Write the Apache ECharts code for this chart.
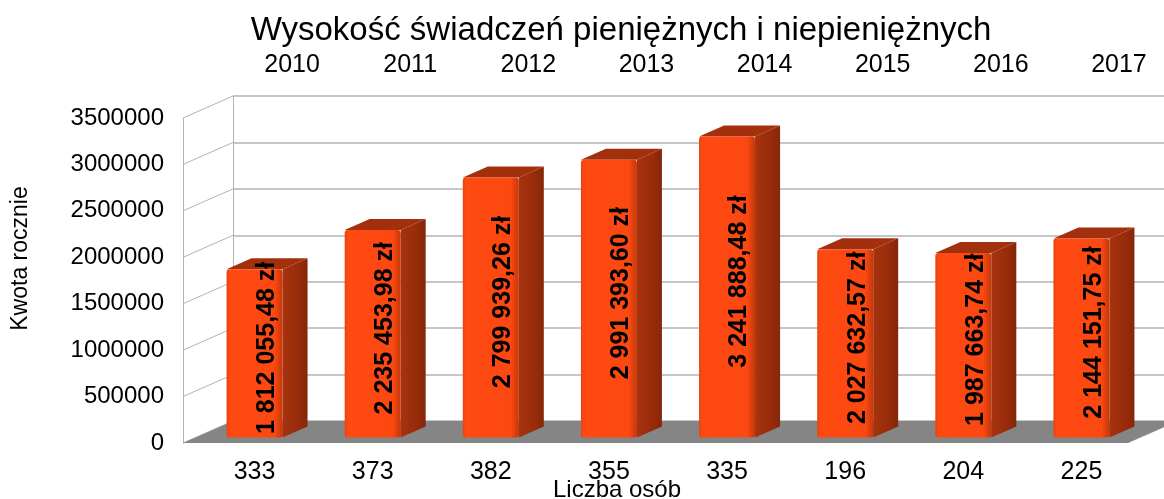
<!DOCTYPE html>
<html>
<head>
<meta charset="utf-8">
<script src="https://cdn.jsdelivr.net/npm/echarts@6/dist/echarts.min.js"></script>
<style>
html, body { margin: 0; padding: 0; background: #fff; }
#chart { width: 1164px; height: 499px; }
</style>
</head>
<body>
<div id="chart"></div>
<script>
// dane: lata (oś górna), liczba osób (oś dolna), kwoty roczne
var years = ['2010', '2011', '2012', '2013', '2014', '2015', '2016', '2017'];
var persons = ['333', '373', '382', '355', '335', '196', '204', '225'];
var amounts = [1812055.48, 2235453.98, 2799939.26, 2991393.60, 3241888.48, 2027632.57, 1987663.74, 2144151.75];
var yTicks = [0, 500000, 1000000, 1500000, 2000000, 2500000, 3000000, 3500000];

var DX = 50, DY = -22;   // przesunięcie głębi (efekt 3D)
var FONT = '"Liberation Sans", Arial, sans-serif';
var GRID_LINE = '#b3b3b3';

function fmtZl(v) {
    var s = v.toFixed(2).split('.');
    return s[0].replace(/\B(?=(\d{3})+(?!\d))/g, ' ') + ',' + s[1] + ' zł';
}

var myChart = echarts.init(document.getElementById('chart'));

// podłoga
function renderFloor(params, api) {
    var cs = params.coordSys;
    var y0 = api.coord([0, 0])[1];
    return {
        type: 'polygon',
        shape: { points: [[cs.x, y0], [cs.x + cs.width, y0], [cs.x + cs.width + DX, y0 + DY], [cs.x + DX, y0 + DY]] },
        style: { fill: '#858585' }
    };
}

// linie siatki na lewej ścianie
function renderWall(params, api) {
    var cs = params.coordSys;
    var p = api.coord([0, api.value(1)]);
    return {
        type: 'line',
        shape: { x1: cs.x, y1: p[1], x2: cs.x + DX, y2: p[1] + DY },
        style: { stroke: GRID_LINE, lineWidth: 1 }
    };
}

// słupki 3D
function renderBar(params, api) {
    var c = api.coord([api.value(0), api.value(1)]);
    var b = api.coord([api.value(0), 0]);
    var w = api.size([1, 0])[0] * 0.474;
    var fx = 0.25 * DX, fy = 0.25 * DY, bx = 0.75 * DX, by = 0.75 * DY;
    var xl = c[0] - w / 2, xr = c[0] + w / 2;
    return {
        type: 'group',
        children: [
            {
                type: 'polygon',
                shape: { points: [[xr + fx, c[1] + fy], [xr + bx, c[1] + by], [xr + bx, b[1] + by], [xr + fx, b[1] + fy]] },
                style: {
                    fill: new echarts.graphic.LinearGradient(0, 0, 1, 0, [
                        { offset: 0, color: '#a8330e' },
                        { offset: 0.7, color: '#952b0a' },
                        { offset: 1, color: '#85260a' }
                    ])
                }
            },
            {
                type: 'polygon',
                shape: { points: [[xl + fx, c[1] + fy], [xl + bx, c[1] + by], [xr + bx, c[1] + by], [xr + fx, c[1] + fy]] },
                style: { fill: '#a2300d' }
            },
            {
                type: 'rect',
                shape: { x: xl + fx, y: c[1] + fy, width: w, height: b[1] - c[1], r: 3 },
                style: {
                    fill: new echarts.graphic.LinearGradient(0, 0, 1, 0, [
                        { offset: 0, color: '#e8420e' },
                        { offset: 0.06, color: '#ff4a12' },
                        { offset: 0.86, color: '#fc4811' },
                        { offset: 1, color: '#c2380b' }
                    ])
                }
            },
            {
                type: 'text',
                x: c[0] + DX / 2,
                y: (c[1] + b[1]) / 2 + DY / 2,
                rotation: Math.PI / 2,
                style: {
                    text: fmtZl(api.value(1)),
                    fill: '#000',
                    fontSize: 25,
                    fontWeight: 'bold',
                    fontFamily: FONT,
                    align: 'center',
                    verticalAlign: 'middle'
                }
            }
        ]
    };
}

myChart.setOption({
    animation: false,
    textStyle: { fontFamily: FONT, color: '#000' },
    title: {
        text: 'Wysokość świadczeń pieniężnych i niepieniężnych',
        left: 616,
        top: 9,
        textAlign: 'center',
        textStyle: { fontSize: 33, fontWeight: 'normal', color: '#000', fontFamily: '"Liberation Sans Narrow", ' + FONT }
    },
    grid: [
        { left: 183, top: 118, width: 945, height: 325, outerBoundsMode: 'none' },    // przód
        { left: 233, top: 96, width: 945, height: 325, outerBoundsMode: 'none' },     // tylna ściana
        { left: 195.5, top: 112.5, width: 945, height: 325, outerBoundsMode: 'none' } // etykiety dolne
    ],
    xAxis: [
        { gridIndex: 0, type: 'category', data: years, show: false },
        {
            gridIndex: 1, type: 'category', data: years, position: 'top',
            axisLine: { show: false }, axisTick: { show: false },
            axisLabel: { fontSize: 25, color: '#000', margin: 18 }
        },
        {
            gridIndex: 2, type: 'category', data: persons, position: 'bottom',
            axisLine: { show: false }, axisTick: { show: false },
            axisLabel: { fontSize: 25, color: '#000', margin: 22 },
            name: 'Liczba osób', nameLocation: 'middle', nameGap: 41, nameMoveOverlap: false,
            nameTextStyle: { fontSize: 24, color: '#000', padding: [0, 102, 0, 0] }
        }
    ],
    yAxis: [
        {
            gridIndex: 0, type: 'value', min: 0, max: 3500000, interval: 500000,
            axisLine: { show: true, lineStyle: { color: GRID_LINE } },
            axisTick: { show: false },
            splitLine: { show: false },
            axisLabel: {
                fontSize: 24, color: '#000', margin: 19,
                formatter: function (v) { return String(v); }
            }
        },
        {
            gridIndex: 1, type: 'value', min: 0, max: 3500000, interval: 500000,
            axisLine: { show: true, lineStyle: { color: GRID_LINE } },
            axisTick: { show: false },
            axisLabel: { show: false },
            splitLine: { show: true, lineStyle: { color: GRID_LINE, width: 1.5 } },
            name: 'Kwota rocznie', nameLocation: 'middle', nameRotate: 90, nameGap: 201,
            nameTextStyle: { fontSize: 23, color: '#000' }
        },
        { gridIndex: 2, type: 'value', min: 0, max: 3500000, show: false }
    ],
    series: [
        {
            type: 'custom', xAxisIndex: 0, yAxisIndex: 0, z: 1, silent: true,
            renderItem: renderWall,
            data: yTicks.map(function (v) { return [0, v]; })
        },
        {
            type: 'custom', xAxisIndex: 0, yAxisIndex: 0, z: 2, silent: true,
            renderItem: renderFloor,
            data: [[0, 0]]
        },
        {
            type: 'custom', xAxisIndex: 0, yAxisIndex: 0, z: 3,
            renderItem: renderBar,
            data: amounts.map(function (v, i) { return [i, v]; })
        }
    ]
});
</script>
</body>
</html>
